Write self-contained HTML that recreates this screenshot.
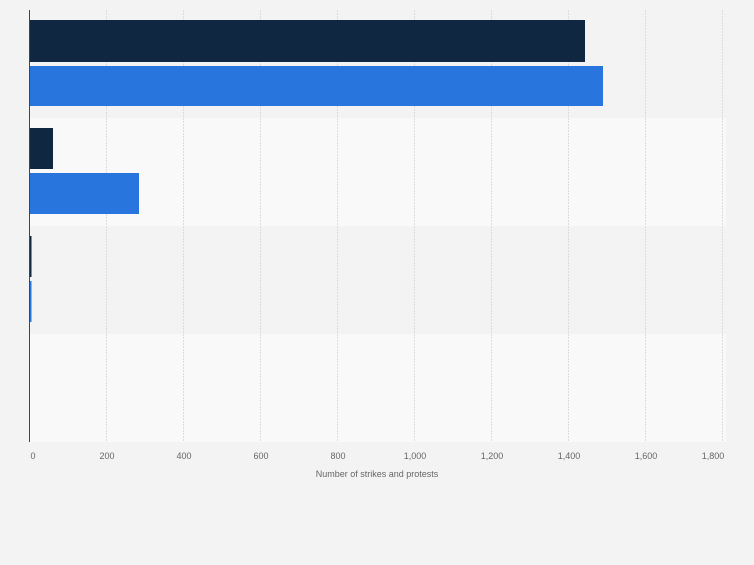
<!DOCTYPE html>
<html><head><style>
body{margin:0;width:754px;height:560px;background:#f3f3f3;font-family:"Liberation Sans",sans-serif;overflow:hidden}
</style></head><body>
<svg width="754" height="560" xmlns="http://www.w3.org/2000/svg">
<rect x="30" y="10" width="696" height="108" fill="#f3f3f3"/>
<rect x="30" y="118" width="696" height="108" fill="#f9f9f9"/>
<rect x="30" y="226" width="696" height="108" fill="#f3f3f3"/>
<rect x="30" y="334" width="696" height="108" fill="#f9f9f9"/>
<g stroke="#dcdcdc" stroke-dasharray="2,1">
<line x1="106.5" y1="10" x2="106.5" y2="442"/>
<line x1="183.5" y1="10" x2="183.5" y2="442"/>
<line x1="260.5" y1="10" x2="260.5" y2="442"/>
<line x1="337.5" y1="10" x2="337.5" y2="442"/>
<line x1="414.5" y1="10" x2="414.5" y2="442"/>
<line x1="491.5" y1="10" x2="491.5" y2="442"/>
<line x1="568.5" y1="10" x2="568.5" y2="442"/>
<line x1="645.5" y1="10" x2="645.5" y2="442"/>
<line x1="722.5" y1="10" x2="722.5" y2="442"/>
</g>
<rect x="30" y="20" width="555" height="42" fill="#0f2740"/>
<rect x="30" y="66" width="573" height="40" fill="#2876dd"/>
<rect x="30" y="128" width="23" height="41" fill="#0f2740"/>
<rect x="30" y="173" width="109" height="41" fill="#2876dd"/>
<rect x="30" y="236" width="1.5" height="41" fill="#0f2740"/>
<rect x="30" y="281" width="1.5" height="41" fill="#2876dd"/>
<line x1="29.5" y1="10" x2="29.5" y2="442" stroke="#444" stroke-width="1"/>
<g font-size="9" fill="#666" text-anchor="middle">
<text x="33" y="459">0</text>
<text x="107" y="459">200</text>
<text x="184" y="459">400</text>
<text x="261" y="459">600</text>
<text x="338" y="459">800</text>
<text x="415" y="459">1,000</text>
<text x="492" y="459">1,200</text>
<text x="569" y="459">1,400</text>
<text x="646" y="459">1,600</text>
<text x="713" y="459">1,800</text>
<text x="377" y="477">Number of strikes and protests</text>
</g>
</svg>
</body></html>
